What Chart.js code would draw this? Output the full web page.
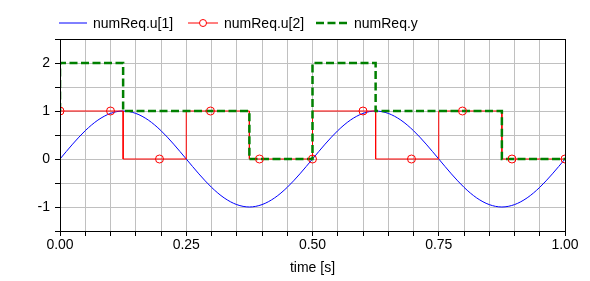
<!DOCTYPE html>
<html lang="en">
<head>
  <meta charset="UTF-8">
  <title>numReq</title>
  <script src="https://cdn.jsdelivr.net/npm/chart.js@4.4.0/dist/chart.umd.min.js"></script>
</head>
<style>
* {
  margin: 0;
  padding: 0;
  box-sizing: border-box;
}

body {
  background: #fff;
  font-family: "Liberation Sans", Arial, sans-serif;
}

.wrapper {
  position: relative;
  width: 590px;
  height: 281px;
}

.legend-item {
  position: absolute;
  top: 14px;
  height: 18px;
  display: flex;
  align-items: center;
  font-size: 14px;
  color: #000;
  white-space: nowrap;
}
.legend-item svg {
  margin-right: 6px;
}
</style>
<body>
<div class="wrapper">
  <canvas id="chart" width="590" height="281"></canvas>
  <div class="legend-item" style="left:59px">
    <svg width="28" height="10"><line x1="0" y1="5" x2="28" y2="5" stroke="#0000ff" stroke-width="1"/></svg>
    <span>numReq.u[1]</span>
  </div>
  <div class="legend-item" style="left:188px">
    <svg width="30" height="10"><line x1="0" y1="5" x2="30" y2="5" stroke="#ff0000" stroke-width="1"/><circle cx="15" cy="5" r="3.5" fill="#fff" stroke="#ff0000" stroke-width="1"/></svg>
    <span>numReq.u[2]</span>
  </div>
  <div class="legend-item" style="left:316px">
    <svg width="32" height="10"><line x1="0" y1="5" x2="32" y2="5" stroke="#008000" stroke-width="2.5" stroke-dasharray="8 3.5"/></svg>
    <span>numReq.y</span>
  </div>
</div>
<script>
// numReq.u[1] sampled every 0.025 s
const sineTime = [
  0, 0.025, 0.05, 0.075, 0.1, 0.125, 0.15, 0.175, 0.2, 0.225,
  0.25, 0.275, 0.3, 0.325, 0.35, 0.375, 0.4, 0.425, 0.45, 0.475,
  0.5, 0.525, 0.55, 0.575, 0.6, 0.625, 0.65, 0.675, 0.7, 0.725,
  0.75, 0.775, 0.8, 0.825, 0.85, 0.875, 0.9, 0.925, 0.95, 0.975, 1
];
const sineValue = [
  0, 0.31, 0.59, 0.81, 0.95, 1, 0.95, 0.81, 0.59, 0.31,
  0, -0.31, -0.59, -0.81, -0.95, -1, -0.95, -0.81, -0.59, -0.31,
  0, 0.31, 0.59, 0.81, 0.95, 1, 0.95, 0.81, 0.59, 0.31,
  0, -0.31, -0.59, -0.81, -0.95, -1, -0.95, -0.81, -0.59, -0.31, 0
];

// numReq.u[2] step corners
const boolTime = [0, 0.125, 0.125, 0.25, 0.25, 0.375, 0.375, 0.5, 0.5, 0.625, 0.625, 0.75, 0.75, 0.875, 0.875, 1];
const boolValue = [1, 1, 0, 0, 1, 1, 0, 0, 1, 1, 0, 0, 1, 1, 0, 0];

// numReq.u[2] marker positions
const markTime = [0, 0.1, 0.197, 0.298, 0.395, 0.5, 0.6, 0.696, 0.797, 0.895, 1];
const markValue = [1, 1, 0, 1, 0, 0, 1, 0, 1, 0, 0];

// numReq.y step corners
const countTime = [0, 0, 0.125, 0.125, 0.375, 0.375, 0.5, 0.5, 0.625, 0.625, 0.875, 0.875, 1];
const countValue = [1, 2, 2, 1, 1, 0, 0, 2, 2, 1, 1, 0, 0];

const xTicks = [0, 0.25, 0.5, 0.75, 1];
const yTicks = [-1, 0, 1, 2];

const pts = (xs, ys) => xs.map((x, i) => ({ x: x, y: ys[i] }));

const frame = {
  id: "frame",
  afterDatasetsDraw(chart) {
    const a = chart.chartArea;
    const ctx = chart.ctx;
    ctx.save();
    ctx.strokeStyle = "#000";
    ctx.lineWidth = 1;
    ctx.strokeRect(Math.round(a.left) + 0.5, Math.round(a.top) + 0.5,
      Math.round(a.right - a.left), Math.round(a.bottom - a.top));
    ctx.restore();
  }
};

const near = (v, list) => list.some((t) => Math.abs(v - t) < 1e-6);

new Chart(document.getElementById("chart"), {
  type: "scatter",
  plugins: [frame],
  data: {
    datasets: [
      {
        label: "numReq.y",
        data: pts(countTime, countValue),
        showLine: true,
        borderColor: "#008000",
        borderWidth: 2.5,
        borderDash: [8, 3.5],
        pointRadius: 0,
        order: 1
      },
      {
        label: "marks",
        data: pts(markTime, markValue),
        showLine: false,
        pointRadius: 4,
        pointBorderWidth: 1,
        pointBorderColor: "#ff0000",
        pointBackgroundColor: "rgba(0,0,0,0)",
        order: 0
      },
      {
        label: "numReq.u[2]",
        data: pts(boolTime, boolValue),
        showLine: true,
        borderColor: "#ff0000",
        borderWidth: 1,
        pointRadius: 0,
        order: 2
      },
      {
        label: "numReq.u[1]",
        data: pts(sineTime, sineValue),
        showLine: true,
        borderColor: "#0000ff",
        borderWidth: 1,
        pointRadius: 0,
        cubicInterpolationMode: "monotone",
        order: 3
      }
    ]
  },
  options: {
    responsive: false,
    animation: false,
    layout: { padding: { top: 39, right: 25, left: 0, bottom: 0 } },
    plugins: {
      legend: { display: false },
      tooltip: { enabled: false }
    },
    scales: {
      x: {
        type: "linear",
        min: 0,
        max: 1,
        afterFit: (s) => { s.height = 50; },
        afterBuildTicks: (s) => {
          s.ticks = [];
          for (let i = 0; i <= 20; i++) s.ticks.push({ value: i / 20 });
        },
        ticks: {
          autoSkip: false,
          maxRotation: 0,
          padding: 1,
          color: "#000",
          font: { family: "'Liberation Sans', Arial, sans-serif", size: 14 },
          callback: (v) => (near(v, xTicks) ? v.toFixed(2) : "")
        },
        grid: { color: "#c0c0c0", tickColor: "#000", tickLength: 5 },
        border: { color: "#000" },
        title: {
          display: true,
          text: "time [s]",
          color: "#000",
          padding: { top: 0, bottom: 4 },
          font: { family: "'Liberation Sans', Arial, sans-serif", size: 14 }
        }
      },
      y: {
        min: -1.5,
        max: 2.5,
        afterFit: (s) => { s.width = 60; },
        ticks: {
          stepSize: 0.5,
          autoSkip: false,
          padding: 5,
          color: "#000",
          font: { family: "'Liberation Sans', Arial, sans-serif", size: 14 },
          callback: (v) => (near(v, yTicks) ? String(v) : "")
        },
        grid: { color: "#c0c0c0", tickColor: "#000", tickLength: 5 },
        border: { color: "#000" }
      }
    }
  }
});
</script>
</body>
</html>
